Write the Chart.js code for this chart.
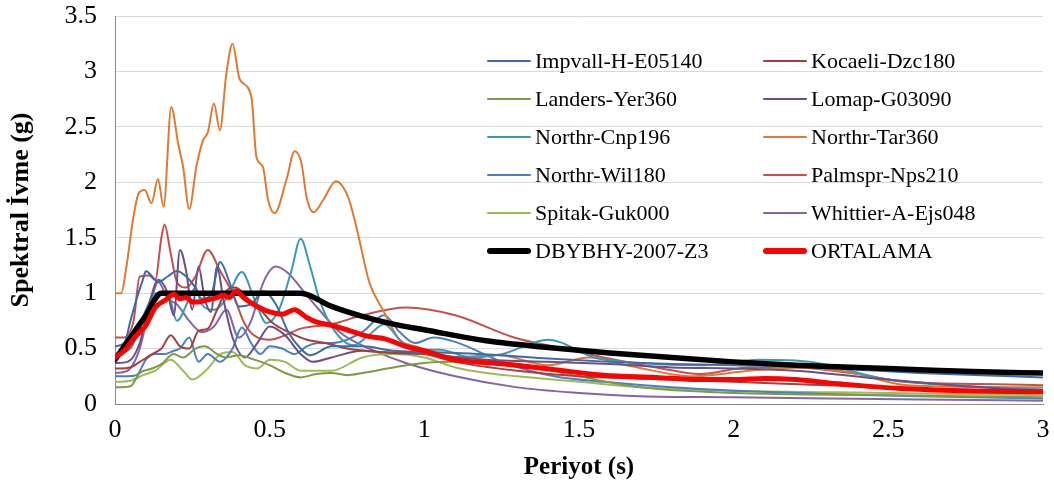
<!DOCTYPE html>
<html>
<head>
<meta charset="utf-8">
<title>Spektral İvme</title>
<script src="https://cdn.jsdelivr.net/npm/chart.js@4"></script>
<style>
  html, body { margin: 0; padding: 0; background: #fff; }
  #wrap { position: relative; width: 1054px; height: 488px; }
  #legend { position: absolute; left: 0; top: 0; font: 22px 'Liberation Serif', 'Times New Roman', serif; color: #000; }
  .item { position: absolute; height: 26px; line-height: 26px; display: flex; align-items: center; white-space: nowrap; }
  .swatch { width: 44px; margin-right: 4px; border-radius: 3px; }
</style>
</head>
<body>
<div id="wrap">
  <canvas id="spectraChart" width="1054" height="488"></canvas>
  <div id="legend"></div>
</div>
<script>
// Period (s) / spectral acceleration (g) pairs for each record
const impvallT = [0, 0.03, 0.05, 0.07, 0.09, 0.1, 0.12, 0.14, 0.17, 0.2, 0.23, 0.26, 0.28, 0.31, 0.34, 0.37, 0.4, 0.44, 0.48, 0.52, 0.56, 0.6, 0.63, 0.7, 0.8, 0.9, 1.0, 1.1, 1.25, 1.4, 1.6, 1.8, 2.0, 2.2, 2.4, 2.6, 2.8, 3.0];
const impvallSa = [0.52, 0.55, 0.75, 0.95, 1.12, 1.2, 1.15, 1.1, 1.15, 1.2, 1.15, 1.05, 0.95, 0.98, 1.28, 1.1, 0.88, 0.9, 1.02, 0.9, 0.65, 0.5, 0.44, 0.52, 0.52, 0.48, 0.47, 0.46, 0.44, 0.41, 0.38, 0.36, 0.35, 0.34, 0.31, 0.28, 0.26, 0.24];

const kocaeliT = [0, 0.05, 0.08, 0.12, 0.15, 0.18, 0.21, 0.24, 0.27, 0.3, 0.33, 0.36, 0.39, 0.43, 0.47, 0.51, 0.56, 0.62, 0.68, 0.75, 0.85, 1.0, 1.1, 1.3, 1.5, 1.8, 2.0, 2.3, 2.6, 3.0];
const kocaeliSa = [0.32, 0.33, 0.38, 0.45, 0.5, 0.62, 0.52, 0.5, 0.66, 0.68, 0.85, 1.02, 1.05, 0.95, 0.85, 0.73, 0.65, 0.58, 0.55, 0.5, 0.47, 0.45, 0.38, 0.3, 0.25, 0.22, 0.2, 0.17, 0.13, 0.1];

const landersT = [0, 0.05, 0.08, 0.12, 0.15, 0.19, 0.22, 0.26, 0.29, 0.33, 0.36, 0.4, 0.45, 0.5, 0.55, 0.6, 0.65, 0.7, 0.75, 0.8, 0.9, 1.0, 1.1, 1.2, 1.3, 1.5, 1.7, 2.0, 2.5, 3.0];
const landersSa = [0.15, 0.16, 0.28, 0.32, 0.36, 0.45, 0.42, 0.5, 0.52, 0.45, 0.42, 0.44, 0.4, 0.35, 0.28, 0.24, 0.27, 0.28, 0.26, 0.28, 0.33, 0.37, 0.38, 0.38, 0.36, 0.25, 0.15, 0.1, 0.08, 0.06];

const lomapT = [0, 0.04, 0.08, 0.11, 0.14, 0.17, 0.19, 0.21, 0.23, 0.25, 0.27, 0.29, 0.31, 0.33, 0.35, 0.38, 0.42, 0.46, 0.5, 0.55, 0.6, 0.64, 0.7, 0.8, 0.9, 1.0, 1.2, 1.4, 1.6, 1.8, 2.0, 2.2, 2.5, 2.8, 3.0];
const lomapSa = [0.37, 0.38, 0.55, 0.9, 1.12, 1.0, 0.8, 1.39, 1.2, 0.85, 1.24, 0.95, 0.83, 1.24, 0.95, 0.6, 0.42, 0.55, 0.7, 0.62, 0.45, 0.38, 0.42, 0.48, 0.46, 0.45, 0.4, 0.38, 0.36, 0.33, 0.32, 0.3, 0.22, 0.15, 0.12];

const cnpT = [0, 0.05, 0.1, 0.13, 0.17, 0.2, 0.24, 0.26, 0.28, 0.32, 0.36, 0.41, 0.45, 0.49, 0.53, 0.57, 0.6, 0.63, 0.66, 0.7, 0.77, 0.82, 0.87, 0.92, 0.96, 1.05, 1.15, 1.25, 1.4, 1.55, 1.7, 1.9, 2.08, 2.25, 2.5, 3.0];
const cnpSa = [0.45, 0.5, 0.85, 1.0, 1.0, 0.75, 0.95, 1.05, 0.9, 0.85, 0.95, 1.19, 0.95, 0.73, 0.85, 1.2, 1.49, 1.25, 0.95, 0.7, 0.53, 0.62, 0.72, 0.58, 0.49, 0.49, 0.42, 0.45, 0.58, 0.42, 0.37, 0.35, 0.4, 0.38, 0.22, 0.13];

const tarT = [0, 0.02, 0.037, 0.058, 0.078, 0.096, 0.118, 0.139, 0.157, 0.182, 0.204, 0.22, 0.24, 0.263, 0.285, 0.3, 0.32, 0.339, 0.36, 0.38, 0.403, 0.441, 0.457, 0.478, 0.495, 0.516, 0.554, 0.581, 0.603, 0.619, 0.642, 0.673, 0.714, 0.753, 0.78, 0.823, 0.866, 0.92, 0.974, 1.08, 1.24, 1.4, 1.53, 1.67, 1.87, 2.05, 2.21, 2.37, 2.56, 3.0];
const tarSa = [1.0, 1.0, 1.24, 1.66, 1.91, 1.93, 1.81, 2.03, 1.78, 2.68, 2.35, 2.14, 1.76, 2.14, 2.38, 2.45, 2.71, 2.47, 2.98, 3.25, 2.93, 2.77, 2.23, 2.14, 1.84, 1.72, 2.02, 2.28, 2.17, 1.87, 1.73, 1.84, 2.01, 1.87, 1.6, 1.09, 0.85, 0.58, 0.52, 0.42, 0.44, 0.35, 0.42, 0.34, 0.25, 0.3, 0.33, 0.29, 0.17, 0.15];

const wilT = [0, 0.04, 0.07, 0.1, 0.13, 0.16, 0.19, 0.21, 0.24, 0.27, 0.3, 0.34, 0.38, 0.41, 0.44, 0.47, 0.5, 0.54, 0.58, 0.62, 0.66, 0.7, 0.75, 0.8, 0.87, 0.92, 0.97, 1.03, 1.1, 1.26, 1.42, 1.58, 1.8, 2.0, 2.3, 2.6, 3.0];
const wilSa = [0.25, 0.25, 0.26, 0.4, 0.45, 0.45, 0.48, 0.5, 0.6, 0.38, 0.45, 0.38, 0.5, 0.69, 0.55, 0.45, 0.52, 0.5, 0.45, 0.52, 0.55, 0.55, 0.58, 0.65, 0.8, 0.65, 0.55, 0.6, 0.56, 0.37, 0.25, 0.2, 0.15, 0.12, 0.09, 0.07, 0.05];

const palmsprT = [0, 0.03, 0.06, 0.08, 0.11, 0.13, 0.15, 0.16, 0.18, 0.2, 0.23, 0.26, 0.3, 0.34, 0.38, 0.42, 0.46, 0.5, 0.55, 0.6, 0.7, 0.8, 0.94, 1.1, 1.29, 1.45, 1.58, 1.75, 1.89, 2.05, 2.2, 2.4, 2.55, 2.8, 3.0];
const palmsprSa = [0.6, 0.6, 0.75, 1.15, 1.16, 1.12, 1.5, 1.62, 1.36, 1.1, 1.05, 1.15, 1.39, 1.2, 1.0, 0.72, 0.6, 0.58, 0.62, 0.68, 0.72, 0.8, 0.87, 0.8, 0.6, 0.5, 0.42, 0.33, 0.27, 0.33, 0.33, 0.27, 0.2, 0.18, 0.17];

const spitakT = [0, 0.05, 0.09, 0.13, 0.18, 0.22, 0.25, 0.3, 0.34, 0.38, 0.42, 0.46, 0.5, 0.55, 0.6, 0.7, 0.8, 0.9, 1.0, 1.1, 1.2, 1.3, 1.5, 1.7, 2.0, 2.5, 3.0];
const spitakSa = [0.2, 0.21, 0.26, 0.3, 0.4, 0.3, 0.22, 0.32, 0.45, 0.47, 0.35, 0.32, 0.4, 0.38, 0.3, 0.3, 0.42, 0.45, 0.42, 0.33, 0.28, 0.25, 0.2, 0.15, 0.12, 0.1, 0.08];

const whittierT = [0, 0.04, 0.08, 0.11, 0.14, 0.17, 0.2, 0.24, 0.28, 0.32, 0.36, 0.4, 0.44, 0.48, 0.52, 0.56, 0.6, 0.66, 0.73, 0.83, 0.94, 1.1, 1.3, 1.5, 1.7, 2.0, 2.3, 2.6, 3.0];
const whittierSa = [0.28, 0.3, 0.5, 0.85, 1.1, 0.95, 0.9, 0.75, 0.65, 0.7, 0.85, 0.6, 0.75, 1.1, 1.24, 1.18, 1.05, 0.85, 0.64, 0.49, 0.37, 0.25, 0.15, 0.1, 0.07, 0.06, 0.05, 0.04, 0.03];

// Design spectrum (DBYBHY-2007, Z3 soil)
const codeT = [0, 0.05, 0.1, 0.15, 0.6, 0.7, 0.8, 0.9, 1.0, 1.2, 1.4, 1.6, 1.8, 2.0, 2.2, 2.4, 2.6, 2.8, 3.0];
const codeSa = [0.4, 0.6, 0.8, 1.0, 1.0, 0.88, 0.79, 0.72, 0.67, 0.57, 0.51, 0.46, 0.42, 0.38, 0.35, 0.33, 0.31, 0.29, 0.28];

// Mean of the ten records
const meanT = [0, 0.03, 0.058, 0.08, 0.1, 0.13, 0.165, 0.19, 0.21, 0.23, 0.25, 0.27, 0.3, 0.33, 0.35, 0.37, 0.39, 0.42, 0.46, 0.5, 0.54, 0.58, 0.62, 0.65, 0.7, 0.76, 0.82, 0.87, 0.94, 1.0, 1.1, 1.26, 1.42, 1.58, 1.75, 1.89, 2.0, 2.1, 2.2, 2.35, 2.54, 2.75, 3.0];
const meanSa = [0.42, 0.48, 0.58, 0.65, 0.71, 0.87, 0.94, 0.99, 0.95, 0.96, 0.92, 0.92, 0.94, 0.96, 0.98, 0.96, 1.02, 0.95, 0.88, 0.83, 0.81, 0.85, 0.78, 0.74, 0.71, 0.66, 0.61, 0.59, 0.52, 0.48, 0.40, 0.36, 0.31, 0.26, 0.24, 0.22, 0.22, 0.23, 0.22, 0.18, 0.14, 0.12, 0.11];

const yTickMax = 3.5;
const xTickMax = 3;

function pairs(ts, vals) {
    return ts.map((t, i) => ({ x: t, y: vals[i] }));
}

// Legend order (two columns, row by row)
const series = [
    { label: 'Impvall-H-E05140', t: impvallT, sa: impvallSa, color: '#3D6BA6', width: 2 },
    { label: 'Kocaeli-Dzc180', t: kocaeliT, sa: kocaeliSa, color: '#A53F3C', width: 2 },
    { label: 'Landers-Yer360', t: landersT, sa: landersSa, color: '#7E9A45', width: 2 },
    { label: 'Lomap-G03090', t: lomapT, sa: lomapSa, color: '#6A5088', width: 2 },
    { label: 'Northr-Cnp196', t: cnpT, sa: cnpSa, color: '#3A9AB4', width: 2 },
    { label: 'Northr-Tar360', t: tarT, sa: tarSa, color: '#DE7B33', width: 2 },
    { label: 'Northr-Wil180', t: wilT, sa: wilSa, color: '#4A7FC2', width: 2 },
    { label: 'Palmspr-Nps210', t: palmsprT, sa: palmsprSa, color: '#C4514E', width: 2 },
    { label: 'Spitak-Guk000', t: spitakT, sa: spitakSa, color: '#9BBB59', width: 2 },
    { label: 'Whittier-A-Ejs048', t: whittierT, sa: whittierSa, color: '#8466A6', width: 2 },
    { label: 'DBYBHY-2007-Z3', t: codeT, sa: codeSa, color: '#000000', width: 5.5 },
    { label: 'ORTALAMA', t: meanT, sa: meanSa, color: '#FF0000', width: 5 }
];

const datasets = series.map((s, i) => ({
    label: s.label,
    data: pairs(s.t, s.sa),
    borderColor: s.color,
    borderWidth: s.width,
    borderCapStyle: 'round',
    borderJoinStyle: 'round',
    fill: false,
    pointRadius: 0,
    cubicInterpolationMode: 'monotone',
    // thick lines go on top, mean above everything
    order: s.label === 'ORTALAMA' ? 0 : (s.label === 'DBYBHY-2007-Z3' ? 1 : 2 + i)
}));

const serif = "'Liberation Serif', 'Times New Roman', serif";

new Chart(document.getElementById('spectraChart'), {
    type: 'line',
    data: { datasets },
    options: {
        responsive: false,
        animation: false,
        devicePixelRatio: 1,
        layout: { padding: { top: 16, right: 11, left: 0, bottom: 0 } },
        plugins: {
            legend: { display: false },
            tooltip: { enabled: false }
        },
        scales: {
            x: {
                type: 'linear',
                min: 0,
                max: xTickMax,
                ticks: { stepSize: 0.5, padding: 11, color: '#000', font: { family: serif, size: 26 }, callback: (v) => String(v) },
                grid: { display: false, drawTicks: false },
                border: { display: true, color: '#8a8a8a', width: 1 },
                title: { display: true, text: 'Periyot (s)', color: '#000', font: { family: serif, size: 25, weight: 'bold' }, padding: { top: 0, bottom: 5 } },
                afterFit: (scale) => {
                    scale.height = 84;
                    scale.paddingLeft = 0;
                    scale.paddingRight = 0;
                }
            },
            y: {
                min: 0,
                max: yTickMax,
                ticks: { stepSize: 0.5, padding: 18, color: '#000', font: { family: serif, size: 26 }, callback: (v) => String(v) },
                grid: { color: '#d9d9d9', lineWidth: 1, drawTicks: false },
                border: { display: true, color: '#8a8a8a', width: 1 },
                title: { display: true, text: 'Spektral İvme (g)', color: '#000', font: { family: serif, size: 26, weight: 'bold' }, padding: { top: 6, bottom: 0 } },
                afterFit: (scale) => {
                    scale.width = 115;
                    scale.paddingTop = 0;
                    scale.paddingBottom = 0;
                }
            }
        }
    }
});

// Legend drawn over the plot, two columns
const legendEl = document.getElementById('legend');
series.forEach((s, i) => {
    const col = i % 2;
    const row = Math.floor(i / 2);
    const item = document.createElement('div');
    item.className = 'item';
    item.style.left = (col === 0 ? 487 : 763) + 'px';
    item.style.top = (48 + row * 38) + 'px';
    const sw = document.createElement('span');
    sw.className = 'swatch';
    sw.style.height = (s.width > 3 ? 6 : 2.5) + 'px';
    sw.style.background = s.color;
    const txt = document.createElement('span');
    txt.textContent = s.label;
    item.appendChild(sw);
    item.appendChild(txt);
    legendEl.appendChild(item);
});
</script>
</body>
</html>
